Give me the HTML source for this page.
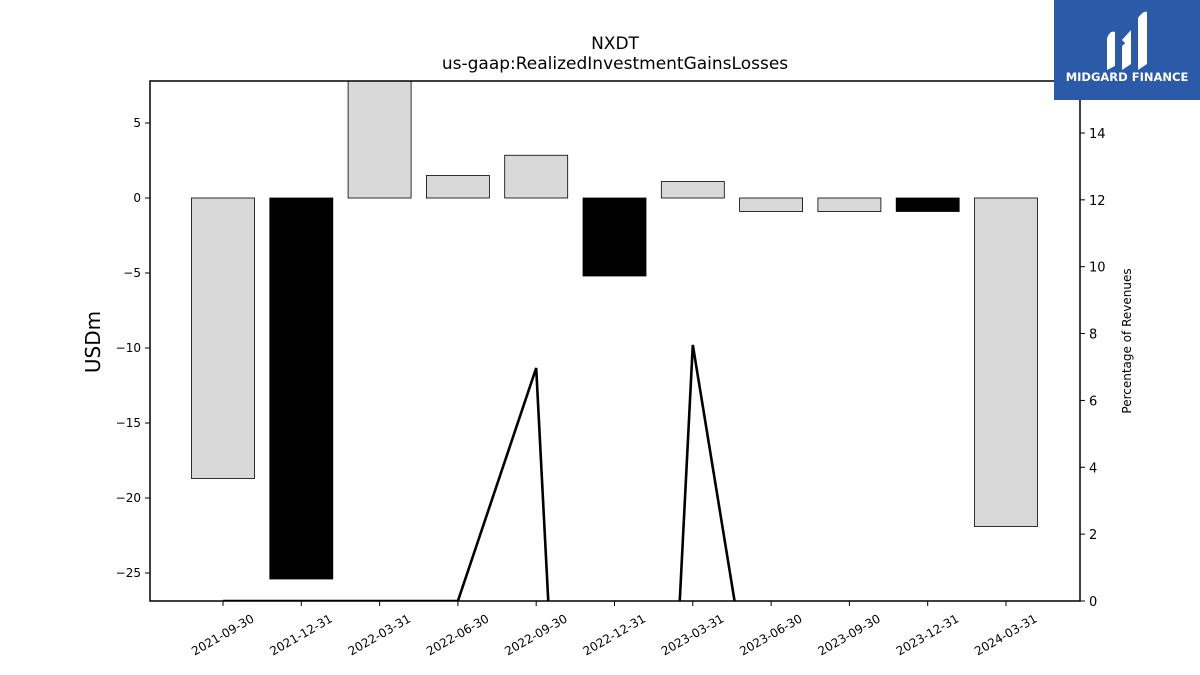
<!DOCTYPE html>
<html><head><meta charset="utf-8"><style>
html,body{margin:0;background:#fff;font-family:"Liberation Sans","DejaVu Sans",sans-serif;overflow:hidden;width:1200px;height:675px}
svg{display:block}
svg text{font-family:"DejaVu Sans","Liberation Sans",sans-serif}
</style></head><body>
<svg id="c" width="1200" height="675" xmlns="http://www.w3.org/2000/svg">
<defs><clipPath id="pc"><rect x="150" y="81" width="930" height="520"/></clipPath></defs>
<text x="615" y="49" font-size="17" text-anchor="middle">NXDT</text>
<text x="615" y="69" font-size="17" text-anchor="middle">us-gaap:RealizedInvestmentGainsLosses</text>
<text transform="translate(100,342) rotate(-90)" font-size="20" text-anchor="middle">USDm</text>
<text transform="translate(1131,341) rotate(-90)" font-size="12" text-anchor="middle">Percentage of Revenues</text>
<g id="bars" clip-path="url(#pc)"></g>
<g id="line" clip-path="url(#pc)"></g>
<g id="axes"></g>
<rect x="150" y="81" width="930" height="520" fill="none" stroke="#000" stroke-width="1.5"/>
<g>
<rect x="1054" y="0" width="146" height="100" fill="#2b5aa9"/>
<path d="M1107 70 L1107 38 Q1110 30 1115 32 L1115 66 Z M1122 70 L1122 46 L1131 38 L1131 64 Z M1138 70 L1138 18 Q1144 10 1147 12 L1147 64 Z M1122 40 L1131 30 L1131 40 L1126 44 Z" fill="#fff"/>
<text x="1127" y="81" font-size="11.5" font-weight="bold" fill="#fff" text-anchor="middle">MIDGARD FINANCE</text>
</g>
</svg>
<script>
const categories=["2021-09-30","2021-12-31","2022-03-31","2022-06-30","2022-09-30","2022-12-31","2023-03-31","2023-06-30","2023-09-30","2023-12-31","2024-03-31"];
const barValues=[-18.7,-25.4,8.5,1.5,2.85,-5.2,1.1,-0.9,-0.9,-0.9,-21.9];
const barDark=[false,true,false,false,false,true,false,false,false,true,false];
const pctValues=[0,0,0,0,6.97,-38.3,7.66,-6.7,null,null,null];
const leftTicks=[5,0,-5,-10,-15,-20,-25];
const rightTicks=[0,2,4,6,8,10,12,14];
const NS="http://www.w3.org/2000/svg";
const X0=150,X1=1080,Y0=81,Y1=601;
const yL=v=>198-v*15;
const yR=v=>601-v*33.43;
const xC=i=>223+i*78.3;
function mk(t,a,p){const e=document.createElementNS(NS,t);for(const k in a)e.setAttribute(k,a[k]);p.appendChild(e);return e;}
const bars=document.getElementById('bars'),line=document.getElementById('line'),axes=document.getElementById('axes');
barValues.forEach((v,i)=>{
 const y=Math.min(yL(v),yL(0)),h=Math.abs(yL(v)-yL(0));
 const r=mk('rect',{x:xC(i)-31.5,y:y,width:63,height:h,fill:barDark[i]?'#000':'#d9d9d9',stroke:'#000','stroke-width':0.8},bars);
 
 
});
let d='',pen=false;
pctValues.forEach((v,i)=>{if(v===null){pen=false;return;}d+=(pen?'L':'M')+xC(i)+' '+yR(v)+' ';pen=true;});
const pl=mk('path',{d:d,fill:'none',stroke:'#000','stroke-width':2.6},line);


leftTicks.forEach(t=>{
 mk('line',{x1:X0-5,x2:X0,y1:yL(t),y2:yL(t),stroke:'#000'},axes);
 const tx=mk('text',{x:X0-9,y:yL(t)+4,'font-size':12,'text-anchor':'end'},axes);
 tx.textContent=t<0?'\u2212'+Math.abs(t):String(t);
 
 
});
rightTicks.forEach(t=>{
 mk('line',{x1:X1,x2:X1+5,y1:yR(t),y2:yR(t),stroke:'#000'},axes);
 const tx=mk('text',{x:X1+9,y:yR(t)+5,'font-size':13},axes);
 tx.textContent=String(t);
 
 
});
categories.forEach((c,i)=>{
 mk('line',{x1:xC(i),x2:xC(i),y1:Y1,y2:Y1+5,stroke:'#000'},axes);
 const tx=mk('text',{transform:`translate(${xC(i)+32},${Y1+20}) rotate(-30)`,'font-size':12,'text-anchor':'end'},axes);
 tx.textContent=c;
 
 
});
</script>
</body></html>
